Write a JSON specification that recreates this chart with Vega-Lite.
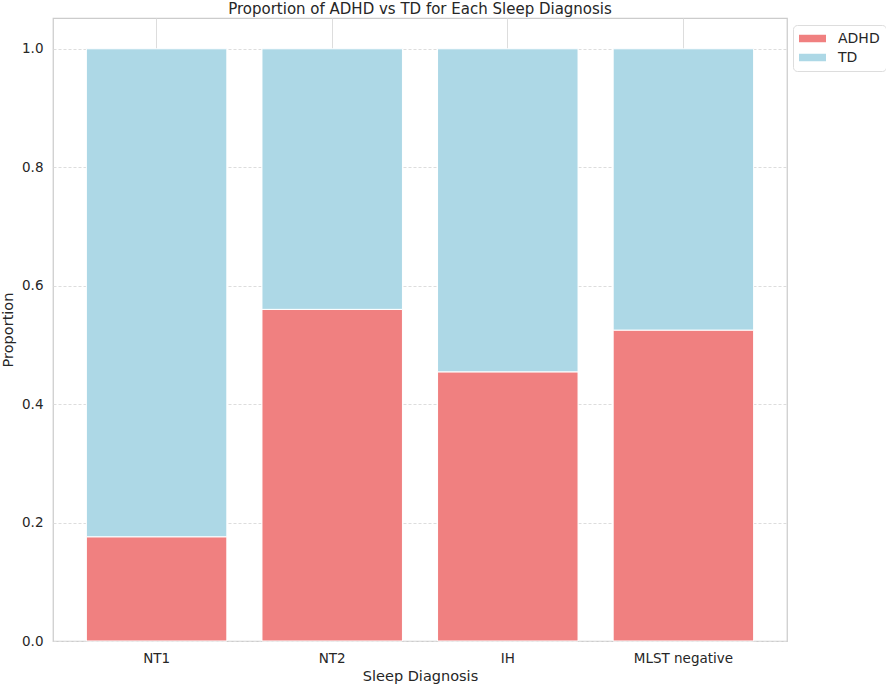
{
  "$schema": "https://vega.github.io/schema/vega-lite/v6.json",
  "width": 734,
  "height": 623,
  "autosize": {"type": "none"},
  "padding": {"left": 53, "top": 18, "right": 99, "bottom": 46},
  "background": "white",
  "title": {
    "text": "Proportion of ADHD vs TD for Each Sleep Diagnosis",
    "fontSize": 15,
    "fontWeight": "normal",
    "font": "DejaVu Sans",
    "color": "#262626",
    "anchor": "middle",
    "offset": 1
  },
  "data": {
    "values": [
      {"diagnosis": "NT1", "group": "ADHD", "proportion": 0.176},
      {"diagnosis": "NT1", "group": "TD", "proportion": 0.824},
      {"diagnosis": "NT2", "group": "ADHD", "proportion": 0.56},
      {"diagnosis": "NT2", "group": "TD", "proportion": 0.44},
      {"diagnosis": "IH", "group": "ADHD", "proportion": 0.4545},
      {"diagnosis": "IH", "group": "TD", "proportion": 0.5455},
      {"diagnosis": "MLST negative", "group": "ADHD", "proportion": 0.525},
      {"diagnosis": "MLST negative", "group": "TD", "proportion": 0.475}
    ]
  },
  "mark": {"type": "bar", "stroke": "white", "strokeWidth": 1},
  "encoding": {
    "x": {
      "field": "diagnosis",
      "type": "nominal",
      "sort": ["NT1", "NT2", "IH", "MLST negative"],
      "title": "Sleep Diagnosis",
      "scale": {"paddingInner": 0.2, "paddingOuter": 0.19},
      "axis": {
        "labelAngle": 0,
        "grid": true,
        "gridColor": "#dddddd",
        "ticks": false,
        "domain": false,
        "labelPadding": 10,
        "titlePadding": 5
      }
    },
    "y": {
      "field": "proportion",
      "type": "quantitative",
      "title": "Proportion",
      "stack": "zero",
      "scale": {"domain": [0, 1.052], "nice": false},
      "axis": {
        "values": [0, 0.2, 0.4, 0.6, 0.8, 1.0],
        "format": ".1f",
        "grid": true,
        "gridColor": "#dddddd",
        "gridDash": [3, 2],
        "ticks": false,
        "domain": false,
        "labelPadding": 10,
        "titlePadding": 6
      }
    },
    "color": {
      "field": "group",
      "type": "nominal",
      "title": null,
      "scale": {"domain": ["ADHD", "TD"], "range": ["#f08080", "#add8e6"]},
      "legend": {
        "orient": "none",
        "legendX": 740,
        "legendY": 7,
        "symbolType": "M-1.8,-0.5H1.8V0.5H-1.8Z",
        "symbolSize": 225,
        "symbolOffset": 6,
        "symbolStrokeWidth": 0,
        "labelFontSize": 14,
        "labelFont": "DejaVu Sans",
        "labelColor": "#262626",
        "labelOffset": 18,
        "rowPadding": 4,
        "padding": 6,
        "strokeColor": "#dddddd",
        "cornerRadius": 4,
        "fillColor": "white"
      }
    },
    "order": {"field": "group", "sort": "ascending"}
  },
  "config": {
    "font": "DejaVu Sans",
    "view": {"stroke": "#cccccc", "strokeWidth": 1.25},
    "axis": {
      "labelFont": "DejaVu Sans",
      "labelFontSize": 13.5,
      "labelColor": "#262626",
      "titleFont": "DejaVu Sans",
      "titleFontSize": 14.5,
      "titleFontWeight": "normal",
      "titleColor": "#262626"
    }
  }
}
